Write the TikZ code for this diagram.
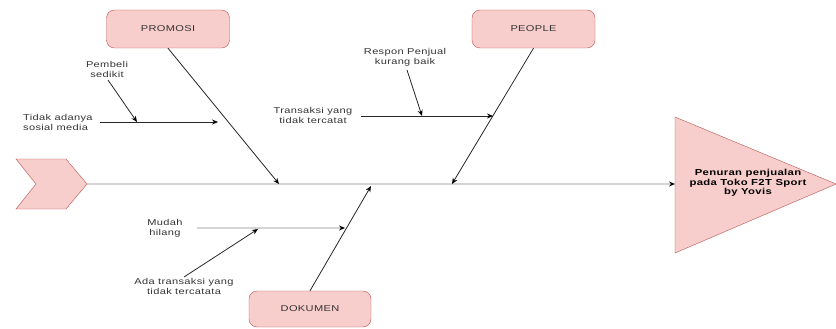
\documentclass[tikz,border=0pt]{standalone}
\usepackage{fontspec}
\setmainfont{Liberation Sans}
\newfontfamily\lblfont[FakeStretch=1.3,LetterSpace=4]{Liberation Sans}
\usetikzlibrary{arrows.meta,calc}
\definecolor{boxfill}{HTML}{F8CECC}
\definecolor{boxline}{HTML}{B85450}
\definecolor{spinegray}{HTML}{D4D4D4}
\definecolor{txtgray}{HTML}{333333}
\begin{document}
\begin{tikzpicture}[x=1pt,y=-1pt,
  catbox/.style={draw=boxline,fill=boxfill,rounded corners=8pt,minimum width=123pt,minimum height=38pt,inner sep=0pt,
    font=\lblfont\fontsize{8.5}{10}\selectfont,text=txtgray},
  lbl/.style={font=\lblfont\fontsize{8.5}{10}\selectfont,text=txtgray,inner sep=0pt},
  tip/.style={-{Stealth[length=6pt,width=5pt,color=black]}},
  bone/.style={tip,draw=black!85,line width=0.8pt},
  spine/.style={tip,draw=spinegray,line width=1.8pt}
]
\useasboundingbox (0,0) rectangle (836,329);
% tail chevron
\draw[draw=boxline,fill=boxfill] (16,159) -- (66,159) -- (87,184) -- (66,209) -- (16,209) -- (36,184) -- cycle;
\coordinate (tail) at (87,184);
% head triangle
\draw[draw=boxline,fill=boxfill] (675,117) -- (836,184) -- (675,253) -- cycle;
\coordinate (head) at (675,184);
\node[font=\lblfont\bfseries\fontsize{8.7}{9.5}\selectfont,align=center,inner sep=0pt] (effect) at (748,183) {Penuran penjualan\\pada Toko F2T Sport\\by Yovis};
% spine
\draw[spine] (tail) -- (head);
% categories
\node[catbox] (promosi) at (168,29) {PROMOSI};
\node[catbox] (people) at (533.5,29) {PEOPLE};
\node[catbox,minimum width=122pt,minimum height=36pt] (dokumen) at (310,309) {DOKUMEN};
\coordinate (jp) at (279,184);
\coordinate (jpe) at (452,184);
\coordinate (jd) at (371,186);
\draw[bone] (promosi.south) -- (jp);
\draw[bone] (people.south) -- (jpe);
\draw[bone] (dokumen.north) -- (jd);
% PROMOSI causes
\node[lbl,align=left,anchor=west] (sosmed) at (23,122) {Tidak adanya\\sosial media};
\coordinate (s1) at (100,122);
\coordinate (s2) at (218,122);
\draw[bone] (s1) -- (s2);
\node[lbl,align=center] (pembeli) at (107,69) {Pembeli\\sedikit};
\coordinate (pa) at (108,80);
\coordinate (pb) at (137,122);
\draw[bone] (pa) -- (pb);
% PEOPLE causes
\node[lbl,align=center] (transaksi) at (313,115) {Transaksi yang\\tidak tercatat};
\coordinate (t1) at (361,116);
\coordinate (t2) at (493,116);
\draw[bone] (t1) -- (t2);
\node[lbl,align=center] (respon) at (405,57) {Respon Penjual\\kurang baik};
\coordinate (ra) at (407,70);
\coordinate (rb) at (422,116);
\draw[bone] (ra) -- (rb);
% DOKUMEN causes
\node[lbl,align=center] (mudah) at (165,228) {Mudah\\hilang};
\coordinate (m1) at (197,228);
\coordinate (m2) at (345,228);
\draw[tip,draw=spinegray,line width=1.2pt] (m1) -- (m2);
\node[lbl,align=center] (ada) at (184,286) {Ada transaksi yang\\tidak tercatata};
\coordinate (aa) at (184,277);
\coordinate (ab) at (258,229);
\draw[bone] (aa) -- (ab);
\end{tikzpicture}
\end{document}
